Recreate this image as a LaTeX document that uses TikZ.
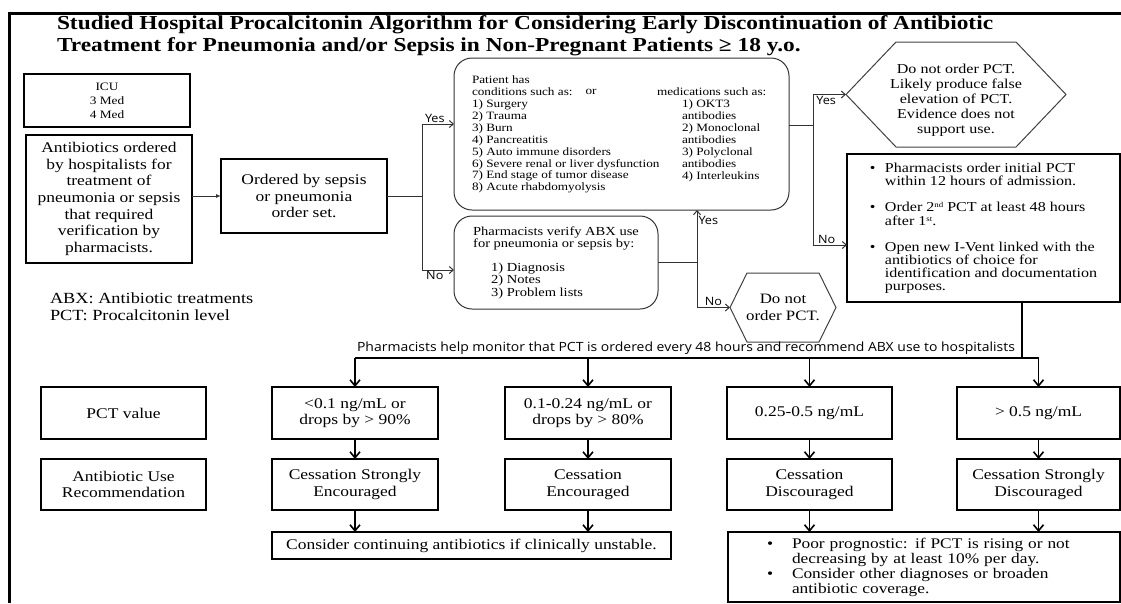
\documentclass[tikz,border=0pt]{standalone}
\usepackage{fontspec}
\setmainfont{Liberation Serif}[FakeStretch=1.18]
\newfontfamily\lblfont{Open Sans}[FakeStretch=1.1]
\usetikzlibrary{arrows.meta,calc}

\newcommand{\supx}[1]{\raisebox{4pt}{\fontsize{7.5}{8}\selectfont #1}}

\begin{document}
\begin{tikzpicture}[
x=1pt,
y=-1pt,
every node/.style={inner sep=0pt,outer sep=0pt},
sqbox/.style={rectangle,draw,line width=1.1pt,align=center,font=\fontsize{14.8}{16.6}\selectfont},
rndbox/.style={rectangle,rounded corners=18pt,draw=black!80,line width=1pt},
hexline/.style={draw=black!75,line width=1pt},
condtxt/.style={align=left,font=\fontsize{11.2}{11.9}\selectfont},
lnk/.style={draw=black!80,line width=1pt},
lnkarr/.style={lnk,-{Straight Barb[length=4pt,width=7pt]}},
ynlbl/.style={font=\lblfont\fontsize{11.5}{12}\selectfont,inner sep=1.5pt},
monline/.style={line width=2.4pt},
downarr/.style={line width=1.6pt,-{Straight Barb[length=6pt,width=10pt]}}
]
\useasboundingbox (0,0) rectangle (1121,603);
% frame and title
\draw[line width=3pt] (9,603) -- (9,13) -- (1121,13);
\node[anchor=west,align=left,font=\bfseries\fontsize{19.8}{22}\selectfont] (title) at (57,36)
 {Studied Hospital Procalcitonin Algorithm for Considering Early Discontinuation of Antibiotic\\
  Treatment for Pneumonia and/or Sepsis in Non-Pregnant Patients ≥ 18 y.o.};

% upper part
\node[sqbox,minimum width=166pt,minimum height=53pt,font=\fontsize{11.3}{14}\selectfont] (icu) at (107,100.5) {ICU\\3 Med\\4 Med};
\node[sqbox,minimum width=166pt,minimum height=128pt] (abx) at (109,199) {Antibiotics ordered\\by hospitalists for\\treatment of\\pneumonia or sepsis\\that required\\verification by\\pharmacists.};
\node[sqbox,minimum width=166pt,minimum height=74pt] (ord) at (304,196) {Ordered by sepsis\\or pneumonia\\order set.};
\node[anchor=west,align=left,font=\fontsize{15.5}{17}\selectfont] (legend) at (50,306.5) {ABX: Antibiotic treatments\\PCT: Procalcitonin level};

\node[rndbox,minimum width=335pt,minimum height=152pt] (cond) at (621.5,134) {};
\node[condtxt,anchor=north west] (condl) at (472,76) {Patient has\\conditions such as:\\1) Surgery\\2) Trauma\\3) Burn\\4) Pancreatitis\\5) Auto immune disorders\\6) Severe renal or liver dysfunction\\7) End stage of tumor disease\\8) Acute rhabdomyolysis};
\node[condtxt] (condor) at (591,92) {or};
\node[condtxt,anchor=north west] (condr) at (657,88) {medications such as:\\\hspace*{25pt}1) OKT3\\\hspace*{25pt}antibodies\\\hspace*{25pt}2) Monoclonal\\\hspace*{25pt}antibodies\\\hspace*{25pt}3) Polyclonal\\\hspace*{25pt}antibodies\\\hspace*{25pt}4) Interleukins};

\node[rndbox,minimum width=204pt,minimum height=93pt,align=left,font=\fontsize{12.3}{12.2}\selectfont] (ver) at (556,262.5)
 {Pharmacists verify ABX use\\for pneumonia or sepsis by:\\[12.2pt]\hspace*{18pt}1) Diagnosis\\\hspace*{18pt}2) Notes\\\hspace*{18pt}3) Problem lists};

\node[minimum width=220pt,minimum height=105pt,align=center,font=\fontsize{13.6}{15}\selectfont] (hexa) at (956,94.5)
 {\rule{0pt}{20pt}Do not order PCT.\\Likely produce false\\elevation of PCT.\\Evidence does not\\support use.};
\draw[hexline] ([xshift=50pt]hexa.north west) -- ([xshift=-50pt]hexa.north east) -- (hexa.east)
 -- ([xshift=-50pt]hexa.south east) -- ([xshift=50pt]hexa.south west) -- (hexa.west) -- cycle;

\node[minimum width=106pt,minimum height=69pt,align=center,font=\fontsize{14.3}{17}\selectfont] (hexb) at (783,307.5) {Do not\\order PCT.};
\draw[hexline] ([xshift=17pt]hexb.north west) -- ([xshift=-17pt]hexb.north east) -- (hexb.east)
 -- ([xshift=-17pt]hexb.south east) -- ([xshift=17pt]hexb.south west) -- (hexb.west) -- cycle;

\node[rectangle,draw,line width=2.4pt,minimum width=273pt,minimum height=148pt,align=left,font=\fontsize{13.6}{13}\selectfont] (pctord) at (983.5,228)
 {\makebox[15pt][l]{\textbullet}Pharmacists order initial PCT\\\hspace*{15pt}within 12 hours of admission.\\[13.5pt]
  \makebox[15pt][l]{\textbullet}Order 2\supx{nd} PCT at least 48 hours\\[1pt]\hspace*{15pt}after 1\supx{st}.\\[12.5pt]
  \makebox[15pt][l]{\textbullet}Open new I-Vent linked with the\\\hspace*{15pt}antibiotics of choice for\\\hspace*{15pt}identification and documentation\\\hspace*{15pt}purposes.};

% upper connectors
\draw[lnk,-{Latex[length=5pt,width=4pt]}] (abx.east |- ord) -- (ord.west);
\draw[lnk] (ord.east) -- ++(35,0) coordinate (spa);
\draw[lnkarr] (spa) |- (cond.west |- 0,124) node[ynlbl,above,pos=0.7]{Yes};
\draw[lnkarr] (spa) |- (ver.west |- 0,270) node[ynlbl,below,pos=0.7]{No};
\draw[lnk] (ver.east) -- ++(39,0) coordinate (spb);
\draw[lnkarr] (spb) -- (spb |- cond.south) node[ynlbl,right,pos=0.8]{Yes};
\draw[lnkarr] (spb) |- (hexb.west) node[ynlbl,above,pos=0.75]{No};
\draw[lnk] ([yshift=9pt]cond.east) -- ++(24,0) coordinate (spc);
\draw[lnkarr] (spc) |- (hexa.west) node[ynlbl,below,pos=0.7]{Yes};
\draw[lnkarr] (spc) |- (pctord.west |- 0,245) node[ynlbl,above,pos=0.7]{No};

% lower part
\node[sqbox,minimum width=165pt,minimum height=52pt] (pv) at (123.5,413) {PCT value};
\node[sqbox,minimum width=165pt,minimum height=51pt] (ur) at (123.5,484.5) {Antibiotic Use\\Recommendation};
\node[sqbox,minimum width=166pt,minimum height=52pt] (v1) at (355,413) {<0.1 ng/mL or\\drops by > 90\%};
\node[sqbox,minimum width=166pt,minimum height=52pt] (v2) at (588,413) {0.1-0.24 ng/mL or\\drops by > 80\%};
\node[sqbox,minimum width=165pt,minimum height=52pt] (v3) at (809.5,413) {0.25-0.5 ng/mL};
\node[sqbox,minimum width=163pt,minimum height=52pt] (v4) at (1038.5,413) {> 0.5 ng/mL};
\node[sqbox,minimum width=166pt,minimum height=51pt] (u1) at (355,484.5) {Cessation Strongly\\Encouraged};
\node[sqbox,minimum width=166pt,minimum height=51pt] (u2) at (588,484.5) {Cessation\\Encouraged};
\node[sqbox,minimum width=165pt,minimum height=51pt] (u3) at (809.5,484.5) {Cessation\\Discouraged};
\node[sqbox,minimum width=163pt,minimum height=51pt] (u4) at (1038.5,484.5) {Cessation Strongly\\Discouraged};
\node[sqbox,minimum width=399pt,minimum height=27pt] (cont) at (471.5,545.5) {Consider continuing antibiotics if clinically unstable.};
\node[sqbox,minimum width=392pt,minimum height=70pt,align=left,text width=314pt,font=\fontsize{14.7}{15}\selectfont] (poor) at (924,567)
 {\makebox[25pt][l]{\textbullet}Poor prognostic: if PCT is rising or not\\\hspace*{25pt}decreasing by at least 10\% per day.\\
  \makebox[25pt][l]{\textbullet}Consider other diagnoses or broaden\\\hspace*{25pt}antibiotic coverage.};

\node[anchor=south,font=\lblfont\fontsize{12.7}{13}\selectfont] (mon) at (686,355) {Pharmacists help monitor that PCT is ordered every 48 hours and recommend ABX use to hospitalists};

% lower connectors
\coordinate (mj) at (1022,358);
\draw[monline] (pctord.south -| mj) -- (mj);
\draw[monline] (v1.north |- mj) -- (v4.north |- mj);
\foreach \v/\u in {v1/u1,v2/u2,v3/u3,v4/u4}{
 \draw[downarr] (\v.north |- mj) -- (\v.north);
 \draw[downarr] (\v.south) -- (\v.south |- \u.north);
}
\draw[downarr] (u1.south) -- (u1.south |- cont.north);
\draw[downarr] (u2.south) -- (u2.south |- cont.north);
\draw[downarr] (u3.south) -- (u3.south |- poor.north);
\draw[downarr] (u4.south) -- (u4.south |- poor.north);
\end{tikzpicture}
\end{document}
